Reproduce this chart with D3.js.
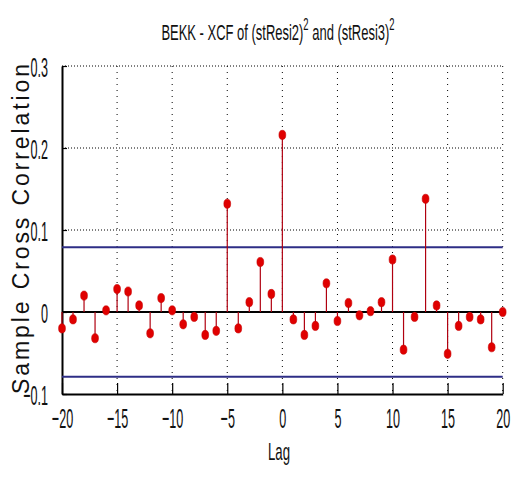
<!DOCTYPE html>
<html><head><meta charset="utf-8">
<script src="https://cdn.jsdelivr.net/npm/d3@7/dist/d3.min.js"></script>
<style>
body{margin:0;background:#fff;}
svg{display:block;}
text{font-family:"Liberation Sans",Arial,sans-serif;fill:#111;}
</style></head>
<body>
<svg id="chart" width="515" height="477"></svg>
<script>
const lags = d3.range(-20, 21);
const xcf = [-0.020,-0.009,0.020,-0.032,0.002,0.028,0.025,0.008,-0.026,0.017,0.002,
  -0.015,-0.006,-0.028,-0.023,0.132,-0.020,0.012,0.061,0.022,0.216,
  -0.009,-0.028,-0.017,0.035,-0.011,0.011,-0.004,0.001,0.012,0.064,
  -0.046,-0.006,0.138,0.008,-0.051,-0.017,-0.006,-0.009,-0.043,0.000];
const bound = 0.079;
const xTicks = [-20,-15,-10,-5,0,5,10,15,20];
const yTicks = [-0.1,0,0.1,0.2,0.3];
const titleParts = ["BEKK - XCF of (stResi2)", "2", " and (stResi3)", "2"];

const svg = d3.select("#chart");
const L=62, R=502.7, T=66, B=394;
const x = d3.scaleLinear().domain([-20,20]).range([L,R]);
const y = d3.scaleLinear().domain([-0.1,0.3]).range([B,T]);
const SX = 0.45;

// grid
const grid = svg.append("g");
grid.selectAll("line.gy").data(yTicks.filter(d=>d!==-0.1)).join("line")
  .attr("x1",L).attr("x2",R).attr("y1",d=>y(d)).attr("y2",d=>y(d))
  .attr("stroke","#000").attr("stroke-width",1).attr("stroke-dasharray","1,2");
grid.selectAll("line.gx").data(xTicks.filter(d=>d!==-20)).join("line")
  .attr("y1",T).attr("y2",B).attr("x1",d=>x(d)).attr("x2",d=>x(d))
  .attr("stroke","#000").attr("stroke-width",1).attr("stroke-dasharray","1,5");

// axes
const xa = svg.append("g").attr("transform",`translate(0,${B})`)
  .call(d3.axisBottom(x).tickValues(xTicks).tickSize(-11).tickSizeOuter(0).tickFormat(d3.format("d")));
const ya = svg.append("g").attr("transform",`translate(${L},0)`)
  .call(d3.axisLeft(y).tickValues(yTicks).tickSize(-5).tickSizeOuter(0).tickFormat(d=>d===0?"0":d3.format(".1f")(d)));
[xa,ya].forEach(a=>{
  a.attr("font-size",null);
  a.select(".domain").attr("stroke","#000").attr("stroke-width",2);
  a.selectAll(".tick line").attr("stroke","#000").attr("stroke-width",1.2);
  a.selectAll("text").attr("font-size",28).attr("font-family","Liberation Sans, Arial, sans-serif").attr("fill","#111");
});
xa.selectAll(".tick text").attr("y",0).attr("dy",0)
  .attr("transform",`translate(0,34) scale(${SX},1)`);
ya.selectAll(".tick text").attr("x",0).attr("dy",0).attr("text-anchor","end")
  .attr("transform",`translate(-14,10) scale(${SX},1)`);

// confidence bounds
svg.selectAll("line.bd").data([bound,-bound]).join("line")
  .attr("x1",L).attr("x2",R).attr("y1",d=>y(d)).attr("y2",d=>y(d))
  .attr("stroke","#2e2e86").attr("stroke-width",2);

// zero line
svg.append("line").attr("x1",L).attr("x2",R).attr("y1",y(0)).attr("y2",y(0))
  .attr("stroke","#000").attr("stroke-width",2.2);

// stems
svg.selectAll("line.stem").data(lags).join("line")
  .attr("x1",d=>x(d)).attr("x2",d=>x(d))
  .attr("y1",y(0)).attr("y2",(d,i)=>y(xcf[i]))
  .attr("stroke","#b00010").attr("stroke-width",1.2);
svg.selectAll("ellipse.mk").data(lags).join("ellipse")
  .attr("cx",d=>x(d)).attr("cy",(d,i)=>y(xcf[i]))
  .attr("rx",3.4).attr("ry",4.6).attr("fill","#e00000").attr("stroke","#c80000").attr("stroke-width",0.6);

// title
const tt = svg.append("text").attr("text-anchor","middle").attr("font-size",22)
  .attr("transform",`translate(278,40) scale(0.59,1)`);
tt.append("tspan").text(titleParts[0]);
tt.append("tspan").attr("dy",-10).attr("font-size",16).text(titleParts[1]);
tt.append("tspan").attr("dy",10).text(titleParts[2]);
tt.append("tspan").attr("dy",-10).attr("font-size",16).text(titleParts[3]);

// x label
svg.append("text").attr("text-anchor","middle").attr("font-size",24)
  .attr("transform",`translate(279,460) scale(0.55,1)`).text("Lag");

// y label
svg.append("text").attr("text-anchor","middle").attr("font-size",23)
  .attr("transform","translate(29,229) rotate(-90)")
  .attr("textLength",330).attr("lengthAdjust","spacing")
  .attr("fill","#555").text("Sample Cross Correlation");
</script>
</body></html>
